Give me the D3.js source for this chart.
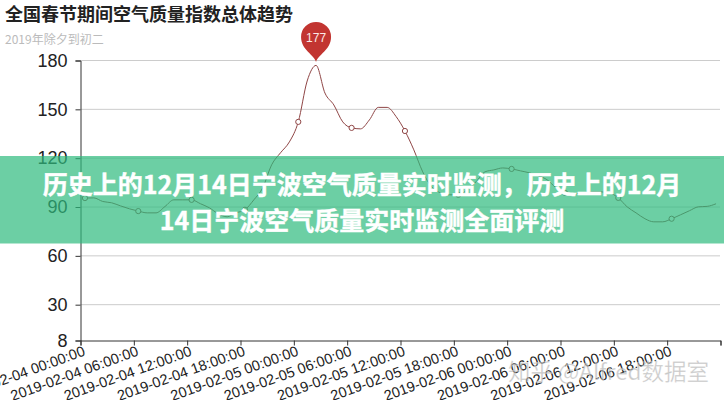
<!DOCTYPE html>
<html><head><meta charset="utf-8">
<script src="https://cdn.jsdelivr.net/npm/d3@7/dist/d3.min.js"></script>
<style>html,body{margin:0;padding:0;background:#fff;overflow:hidden}svg{display:block}</style>
</head><body><svg id="c" width="724" height="400"></svg>
<script>
const titleText = "全国春节期间空气质量指数总体趋势";
const subtitleText = "2019年除夕到初二";
const bannerLines = ["历史上的12月14日宁波空气质量实时监测，历史上的12月","14日宁波空气质量实时监测全面评测"];
const watermarkText = "知乎 @Alfred数据室";
const yTicks = [8,30,60,90,120,150,180];
const xTickLabels = ["2019-02-04 00:00:00","2019-02-04 06:00:00","2019-02-04 12:00:00","2019-02-04 18:00:00","2019-02-05 00:00:00","2019-02-05 06:00:00","2019-02-05 12:00:00","2019-02-05 18:00:00","2019-02-06 00:00:00","2019-02-06 06:00:00","2019-02-06 12:00:00","2019-02-06 18:00:00",""];
const aqiValues = [95.5,95.6,93.4,92.6,90.7,88.9,87.5,86.4,86.4,90.3,94.4,94.4,94.4,92,89.5,85.8,84,86.4,88.3,94.4,101.8,115.9,123.3,130,142.3,167.4,177,160,152.7,142.3,138.6,138,143.5,151.2,151.2,145.6,136.7,125.1,111.6,102.4,98.7,97.5,97.5,100.6,105.5,111.6,112.8,114,113.4,112.2,111,109.2,106.7,101.8,98.7,98.1,98.7,99.3,99.3,98.7,95.6,90.1,86.4,82.8,80.9,80.9,82.8,85.2,87.7,90.1,90.4,92];
const peakValue = 177;

const svg = d3.select("#c");
const x = d3.scaleLinear().domain([0,72]).range([80.5,720.5]);
const y = d3.scaleLinear().domain([8,180]).range([340.5,60.5]);
const cx = i => x(i+0.5);
const axisColor = "#333", lineColor = "#8f4545";

svg.append("g").selectAll("line").data(yTicks.filter(d=>d!==8)).join("line")
  .attr("x1",x(0)).attr("x2",720).attr("y1",d=>y(d)).attr("y2",d=>y(d))
  .attr("stroke","#ccc").attr("stroke-width",1);

const gy = svg.append("g").attr("transform",`translate(${x(0)},0)`)
  .call(d3.axisLeft(y).tickValues(yTicks).tickSize(5).tickPadding(8).tickFormat(d3.format("d")));
gy.selectAll("path,line").attr("stroke",axisColor);
gy.selectAll("text").attr("fill","#222").style("font","18px 'Liberation Sans',Arial,sans-serif");

const gx = svg.append("g").attr("transform",`translate(0,${y(8)})`)
  .call(d3.axisBottom(x).tickValues(d3.range(0,73,6)).tickSize(5).tickFormat((d,i)=>xTickLabels[i]));
gx.selectAll("path,line").attr("stroke",axisColor);
gx.selectAll("text").attr("fill","#222").style("font","14.5px 'Liberation Sans',Arial,sans-serif")
  .attr("text-anchor","end").attr("dy",0).attr("y",0)
  .attr("transform","translate(5,14.5) rotate(-20)");

const line = d3.line().x((d,i)=>cx(i)).y(d=>y(d)).curve(d3.curveMonotoneX);
svg.append("path").datum(aqiValues).attr("d",line).attr("fill","none").attr("stroke",lineColor).attr("stroke-width",1);
svg.append("g").selectAll("circle").data(aqiValues.map((v,i)=>[v,i]).filter(d=>d[1]%6===0)).join("circle")
  .attr("cx",d=>cx(d[1])).attr("cy",d=>y(d[0])).attr("r",2.6).attr("fill","#fff").attr("stroke",lineColor).attr("stroke-width",1);

const peakIndex = aqiValues.indexOf(peakValue);
const pin = svg.append("g").attr("transform",`translate(${cx(peakIndex)},${y(peakValue)-3.5})`);
pin.append("path").attr("d","M0,0 C-1.5,-7 -15,-12 -15,-25 A15,15 0 1 1 15,-25 C15,-12 1.5,-7 0,0 Z").attr("fill","#c23531");
pin.append("text").attr("y",-19.5).attr("text-anchor","middle").attr("fill","#fbe9e7").style("font","12px 'Liberation Sans',Arial,sans-serif").text(peakValue);

svg.append("text").attr("x",5).attr("y",21).attr("fill","#222").style("font","700 18px 'Noto Sans CJK SC',sans-serif").text(titleText);
svg.append("text").attr("x",5).attr("y",43.5).attr("fill","#bbb").style("font","12px 'Noto Sans CJK SC',sans-serif").text(subtitleText);

svg.append("text").attr("x",608.5).attr("y",380).attr("text-anchor","middle").attr("fill","rgba(165,165,165,.6)")
  .attr("stroke","rgba(255,255,255,.5)").attr("stroke-width",.6)
  .style("font","22.5px 'Noto Sans CJK SC',sans-serif").text(watermarkText);

svg.append("rect").attr("x",0).attr("y",156).attr("width",724).attr("height",87.5).attr("fill","rgba(46,186,126,.7)");
svg.append("g").selectAll("text").data(bannerLines).join("text")
  .attr("x",362).attr("y",(d,i)=>194+i*36).attr("text-anchor","middle").attr("fill","#fff")
  .attr("stroke","#fff").attr("stroke-width",.4)
  .style("font","700 25px 'Noto Sans CJK SC',sans-serif").text(d=>d);
</script></body></html>
